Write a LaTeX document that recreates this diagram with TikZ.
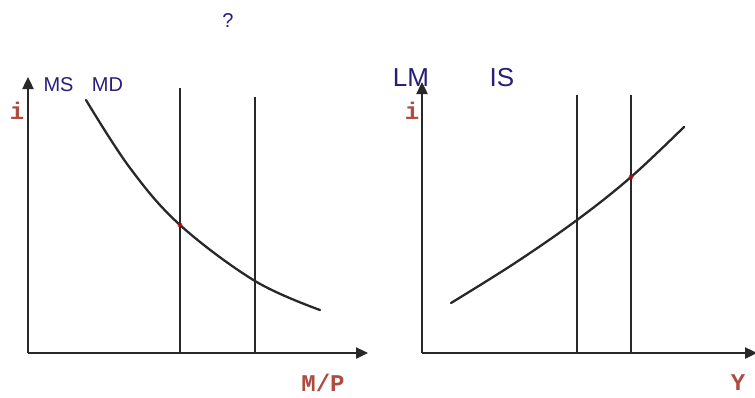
\documentclass[tikz,border=0pt]{standalone}
\usepackage{fontspec}
\setmainfont{Liberation Sans}
\newfontfamily\monofnt{Liberation Mono}
\usetikzlibrary{arrows.meta}
\definecolor{lblblue}{RGB}{40,30,120}
\definecolor{axred}{RGB}{175,75,65}
\definecolor{ln}{RGB}{40,40,40}
\begin{document}
\begin{tikzpicture}[x=1pt,y=-1pt,
  axis/.style={draw=ln,line width=2.4pt,-{Triangle[length=12pt,width=11pt]}},
  vline/.style={draw=ln,line width=2.2pt},
  curve/.style={draw=ln,line width=2.3pt,line cap=round},
  bluelbl/.style={text=lblblue,inner sep=0pt,font=\fontsize{20}{22}\selectfont},
  biglbl/.style={text=lblblue,inner sep=0pt,font=\fontsize{26}{28}\selectfont},
  redlbl/.style={text=axred,inner sep=0pt,font=\monofnt\bfseries\fontsize{24}{26}\selectfont},
  dot/.style={fill=red!80!black,opacity=0.7}]
\useasboundingbox (0,0) rectangle (755,397);
% left panel
\coordinate (O1) at (28,353);
\coordinate (Y1) at (28,77);
\coordinate (X1) at (368,353);
\draw[axis] (O1) -- (Y1);
\draw[axis] (O1) -- (X1);
\coordinate (a1) at (180,88);
\coordinate (a2) at (180,353);
\coordinate (b1) at (255,97);
\coordinate (b2) at (255,353);
\draw[vline] (a1) -- (a2);
\draw[vline] (b1) -- (b2);
\draw[curve] plot[smooth,tension=0.6] coordinates {(86,100) (130,168) (180,225) (255,281) (320,310)};
\fill[dot] (180,225) circle (2.5);
\node[bluelbl] (ms) at (58.5,85) {MS};
\node[bluelbl] (md) at (107.5,85) {MD};
\node[redlbl] (i1) at (17,111) {i};
\node[redlbl] (mp) at (323,383) {M/P};
% question mark
\node[bluelbl] (q) at (228,21) {?};
% right panel
\coordinate (O2) at (422,353);
\coordinate (Y2) at (422,82);
\coordinate (X2) at (757,353);
\draw[axis] (O2) -- (Y2);
\draw[axis] (O2) -- (X2);
\coordinate (c1) at (577,95);
\coordinate (c2) at (577,353);
\coordinate (d1) at (631,95);
\coordinate (d2) at (631,353);
\draw[vline] (c1) -- (c2);
\draw[vline] (d1) -- (d2);
\draw[curve] plot[smooth,tension=0.6] coordinates {(451,303) (515,263) (577,220) (631,177) (684,127)};
\fill[dot] (631,177) circle (2.5);
\node[biglbl] (lm) at (411,78) {LM};
\node[biglbl] (is) at (502,78) {IS};
\node[redlbl] (i2) at (412,111) {i};
\node[redlbl] (yl) at (738,383) {Y};
\end{tikzpicture}
\end{document}
